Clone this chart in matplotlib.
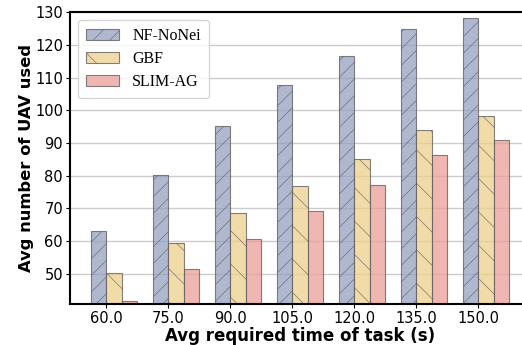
import matplotlib.pyplot as plt
import numpy as np

# Data
times = ["60.0", "75.0", "90.0", "105.0", "120.0", "135.0", "150.0"]
nf_nonei = [63.1, 80.2, 95.2, 107.7, 116.6, 124.8, 128.2]
gbf = [50.4, 59.4, 68.5, 76.9, 85.2, 93.9, 98.2]
slim_ag = [41.8, 51.4, 60.6, 69.1, 77.3, 86.3, 90.9]

series = [
    ("NF-NoNei", nf_nonei, "#94a1c0", "//"),
    ("GBF", gbf, "#ebcf8c", "\\"),
    ("SLIM-AG", slim_ag, "#eb9f98", ""),
]

plt.rcParams["hatch.linewidth"] = 0.5

fig = plt.figure(figsize=(5.22, 3.45), dpi=100)
ax = fig.add_axes([0.134, 0.119, 0.882, 0.846])

x = np.arange(len(times))
width = 0.25
for k, (name, vals, color, hatch) in enumerate(series):
    ax.bar(x + (k - 0.5) * width, vals, width, color=color, hatch=hatch,
           edgecolor="#5a5a5a", linewidth=0.8, alpha=0.75, label=name, zorder=2)

ax.set_xticks(x)
ax.set_xticklabels(times, fontsize=10.5)
ax.tick_params(axis="both", labelsize=10.5, length=3, pad=2)
ax.set_ylim(40.8, 130)
ax.set_yticks(range(50, 131, 10))
ax.yaxis.grid(True, color="#cccccc", linewidth=1.0, zorder=0)
ax.set_axisbelow(True)

for side in ["left", "bottom", "top", "right"]:
    ax.spines[side].set_linewidth(1.5)

ax.set_xlabel("Avg required time of task (s)", fontsize=12, fontweight="bold", labelpad=1)
ax.set_ylabel("Avg number of UAV used", fontsize=11.8, fontweight="bold", labelpad=1)

ax.legend(loc="upper left", prop={"family": "Liberation Serif", "size": 11.5},
          handlelength=2.05, handleheight=0.7, handletextpad=0.85,
          borderpad=0.5, labelspacing=0.45)

fig.savefig("out.png", dpi=100)
